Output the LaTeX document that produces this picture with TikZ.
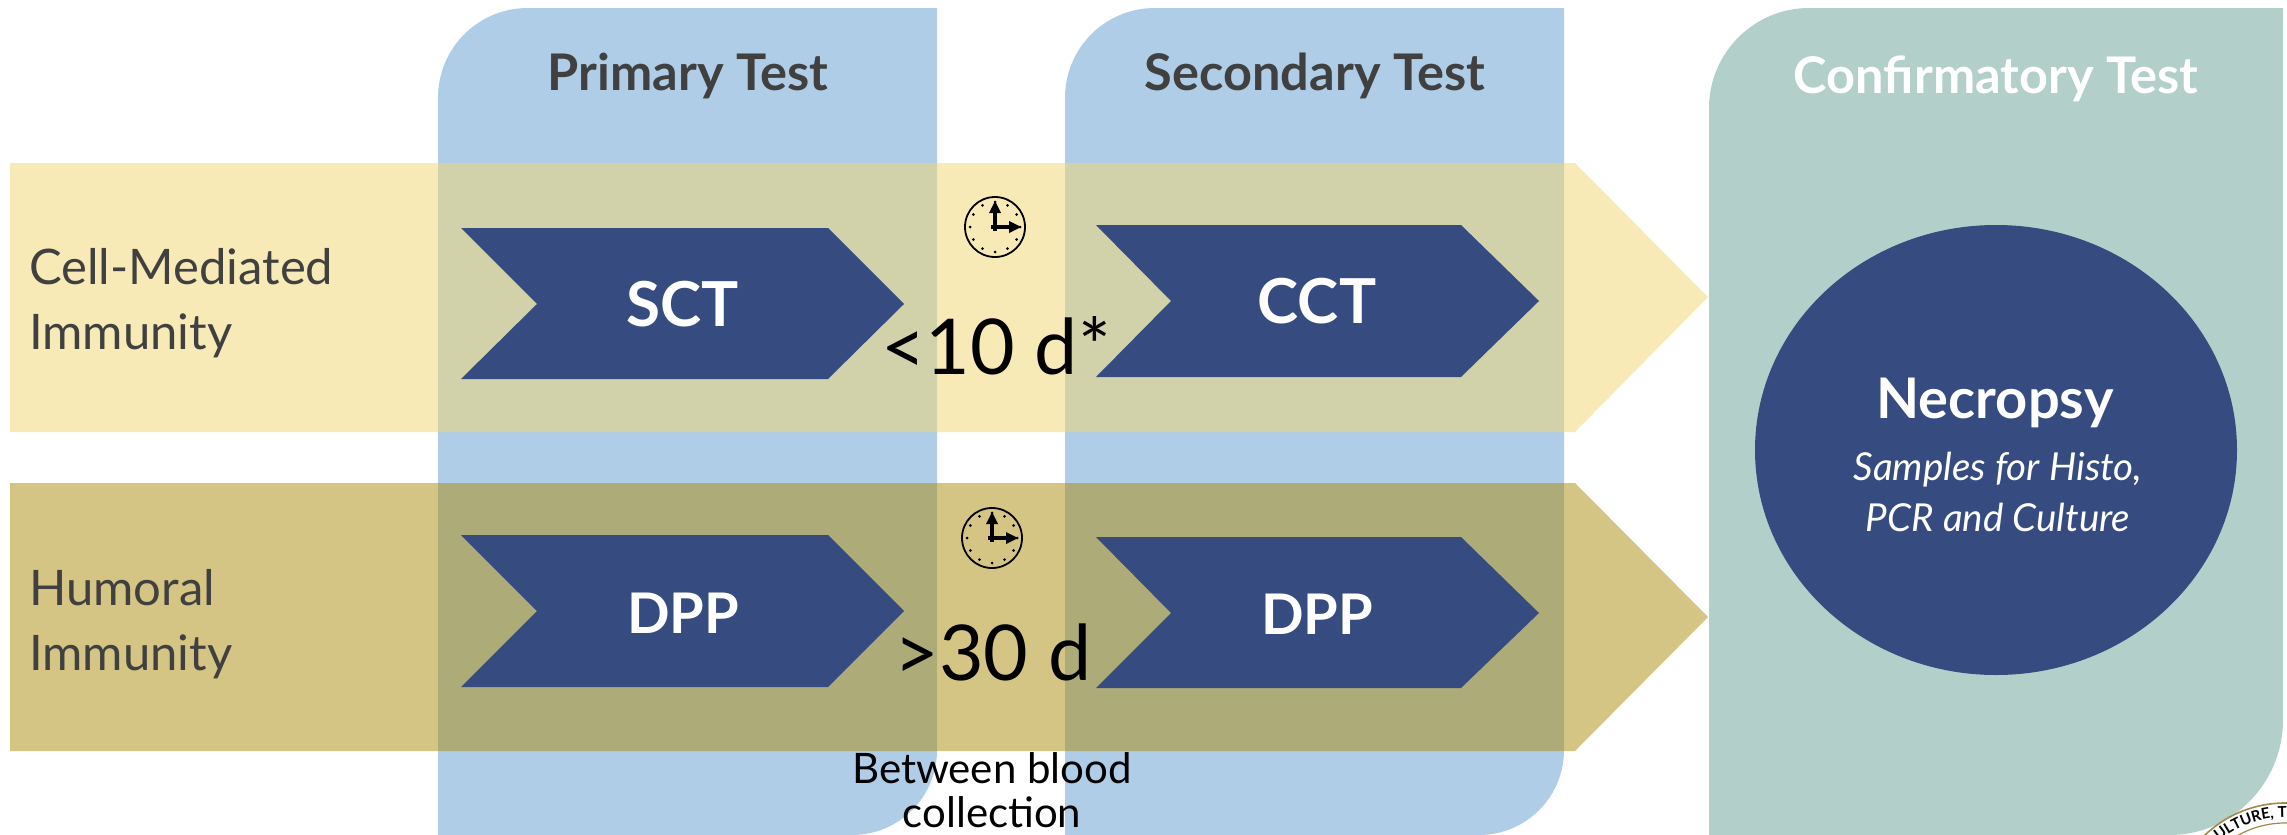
\documentclass[tikz,border=0pt]{standalone}
\usepackage{fontspec}
\setmainfont{Lato}
\usetikzlibrary{decorations.text,calc}
\definecolor{panelblue}{HTML}{AFCDE7}
\definecolor{panelteal}{HTML}{B3CFCA}
\definecolor{navy}{HTML}{364B80}
\definecolor{yelband}{HTML}{F3D76F}
\definecolor{golband}{HTML}{AD8D0B}
\definecolor{ink}{HTML}{404040}
\definecolor{sealgold}{HTML}{A08A4A}
\tikzset{
  x=1pt,y=-1pt,
  panel/.style={fill=panelblue,draw=none},
  band/.style={draw=none,fill opacity=.5},
  chev/.style={fill=navy,draw=none},
  head/.style={font=\bfseries\fontsize{50.5}{56}\selectfont,text=ink,inner sep=0pt,anchor=base},
  side/.style={font=\fontsize{49}{66}\selectfont,text=ink,inner sep=0pt,anchor=base west},
  tag/.style={font=\bfseries\fontsize{62}{66}\selectfont,text=white,inner sep=0pt,anchor=base},
  tagb/.style={font=\bfseries\fontsize{56}{60}\selectfont,text=white,inner sep=0pt,anchor=base},
  gap/.style={font=\fontsize{77}{80}\selectfont,text=black,inner sep=0pt,anchor=base},
  note/.style={font=\fontsize{42}{46}\selectfont,text=black,inner sep=0pt,anchor=base},
  noteit/.style={font=\itshape\fontsize{38.5}{44}\selectfont,text=white,inner sep=0pt,anchor=base},
  clockhand/.style={line width=3.4pt,black},
}
\newcommand{\clockface}[1]{%
  \draw[line width=1.8pt,black] (#1) circle[radius=30];
  \foreach \a in {0,30,...,330}{\fill[black] ($(#1)+(\a:25)$) circle[radius=1.5];}
  \draw[clockhand] ($(#1)+(0,4)$) -- ($(#1)+(0,-18)$);
  \draw[clockhand] ($(#1)+(-4,0)$) -- ($(#1)+(16,0)$);
  \fill[black] ($(#1)+(0,-26)$) -- ($(#1)+(-6,-14)$) -- ($(#1)+(6,-14)$) -- cycle;
  \fill[black] ($(#1)+(14,-6)$) -- ($(#1)+(14,6)$) -- ($(#1)+(26,0)$) -- cycle;
}
\begin{document}
\begin{tikzpicture}
\clip (0,0) rectangle (2287,835);
\useasboundingbox (0,0) rectangle (2287,835);
\fill[white] (0,0) rectangle (2287,835);
% panels
\fill[panel] (438,835) -- (438,98) .. controls (438,48) and (478,8) .. (528,8) -- (937,8) -- (937,750) .. controls (937,797) and (899,835) .. (852,835) -- cycle;
\fill[panel] (1065,835) -- (1065,98) .. controls (1065,48) and (1105,8) .. (1155,8) -- (1564,8) -- (1564,750) .. controls (1564,797) and (1526,835) .. (1479,835) -- cycle;
\fill[panelteal] (1709,835) -- (1709,108) .. controls (1709,53) and (1754,8) .. (1809,8) -- (2283,8) -- (2283,720) .. controls (2283,783) and (2232,835) .. (2170,835) -- cycle;
% seal
\fill[white] (2285,919) circle[radius=116];
\draw[sealgold,line width=1.6pt] (2285,919) circle[radius=116];
\draw[sealgold,line width=1.2pt] (2285,919) circle[radius=96];
\path[decorate,decoration={text along path,text align=left,raise=0pt,text={|\bfseries\fontsize{15}{18}\selectfont|ULTURE, TRA}}] (2219,841) arc[start angle=-130,end angle=-70,radius=102];
% bands
\fill[yelband,band] (10,163) -- (1575,163) -- (1708,297) -- (1575,432) -- (10,432) -- cycle;
\fill[golband,band] (10,483) -- (1575,483) -- (1708,617) -- (1575,751) -- (10,751) -- cycle;
% chevrons
\fill[chev] (461,228) -- (828,228) -- (904,304) -- (828,379) -- (461,379) -- (537,304) -- cycle;
\fill[chev] (1096,225) -- (1461,225) -- (1539,301) -- (1461,377) -- (1096,377) -- (1171,301) -- cycle;
\fill[chev] (461,535) -- (828,535) -- (904,611) -- (828,687) -- (461,687) -- (537,611) -- cycle;
\fill[chev] (1096,537) -- (1461,537) -- (1539,613) -- (1461,688) -- (1096,688) -- (1171,613) -- cycle;
\fill[navy] (1996,450) ellipse[x radius=241,y radius=225];
% titles
\node[head] (t1) at (688,90) {Primary Test};
\node[head] (t2) at (1315,90) {Secondary Test};
\node[head,text=white] (t3) at (1996,93) {Confirmatory Test};
\node[side] (s1) at (29,284) {Cell-Mediated};
\node[side] (s1b) at (29,349) {Immunity};
\node[side] (s2) at (29,605) {Humoral};
\node[side] (s2b) at (29,670) {Immunity};
\node[tag] (c1) at (683,326) {SCT};
\node[tag] (c2) at (1317,323) {CCT};
\node[tagb] (c3) at (683,633) {DPP};
\node[tagb] (c4) at (1317,634) {DPP};
\node[tagb] (n0) at (1995,418) {Necropsy};
\node[noteit] (n1) at (1998,480) {Samples for Histo,};
\node[noteit] (n2) at (1998,531) {PCR and Culture};
\node[gap] (g1) at (996,374) {<10 d*};
\node[gap] (g2) at (993,680) {>30 d};
\node[note] (b1) at (992,783) {Between blood};
\node[note] (b2) at (992,827) {collection};
\coordinate (k1) at (995,227);
\coordinate (k2) at (992,538);
\clockface{k1}
\clockface{k2}
\end{tikzpicture}
\end{document}
